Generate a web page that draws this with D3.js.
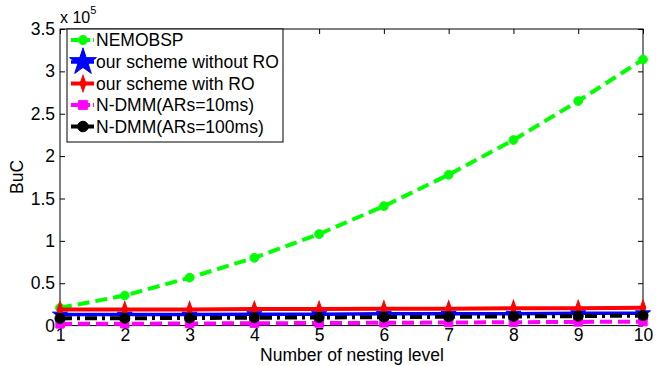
<!DOCTYPE html>
<html><head><meta charset="utf-8">
<script src="https://cdn.jsdelivr.net/npm/d3@7"></script>
<style>
html,body{margin:0;padding:0;background:#fff;}
text{font-family:"Liberation Sans",Arial,Helvetica,sans-serif;}
</style></head>
<body>
<svg id="chart" width="662" height="366"></svg>
<script>
// Data (values in units of x10^5)
const levels = [1,2,3,4,5,6,7,8,9,10];
const nemobsp   = [0.21,0.355,0.565,0.80,1.08,1.41,1.78,2.19,2.65,3.14];
const withoutRO = [0.13,0.13,0.13,0.135,0.135,0.14,0.14,0.14,0.145,0.145];
const withRO    = [0.19,0.19,0.19,0.195,0.195,0.2,0.2,0.205,0.205,0.21];
const ndmm10    = [0.02,0.022,0.025,0.028,0.03,0.033,0.036,0.04,0.043,0.047];
const ndmm100   = [0.085,0.087,0.09,0.093,0.096,0.1,0.104,0.108,0.112,0.118];
const seriesNames = ["NEMOBSP","our scheme without RO","our scheme with RO","N-DMM(ARs=10ms)","N-DMM(ARs=100ms)"];
const yTicks = [0,0.5,1,1.5,2,2.5,3,3.5];
const yTickLabels = ["0","0.5","1","1.5","2","2.5","3","3.5"];
const xTicks = [1,2,3,4,5,6,7,8,9,10];

const series = [
  {name:seriesNames[0], values:nemobsp,   color:"#00ff00", width:4, dash:"12,6", marker:"circle", msize:60},
  {name:seriesNames[1], values:withoutRO, color:"#0000ff", width:3.5, dash:null, marker:"star", msize:70},
  {name:seriesNames[2], values:withRO,    color:"#ff0000", width:4, dash:null, marker:"diamond", msize:45},
  {name:seriesNames[3], values:ndmm10,    color:"#ff00ff", width:4, dash:"12,6", marker:"square", msize:70},
  {name:seriesNames[4], values:ndmm100,   color:"#000000", width:4, dash:"12,5,3,5", marker:"circle", msize:80}
];

const L=60, R=643, T=29, B=325.6;
const svg = d3.select("#chart");
const x = d3.scaleLinear().domain([1,10]).range([L,R]);
const y = d3.scaleLinear().domain([0,3.5]).range([B,T]);

const fs = "17.5px";
const gx = svg.append("g").attr("transform",`translate(0,${B})`)
  .call(d3.axisBottom(x).tickValues(xTicks).tickSize(-5).tickPadding(3).tickFormat(d3.format("d")));
const gxt = svg.append("g").attr("transform",`translate(0,${T})`)
  .call(d3.axisTop(x).tickValues(xTicks).tickSize(-5).tickFormat(""));
const gy = svg.append("g").attr("transform",`translate(${L},0)`)
  .call(d3.axisLeft(y).tickValues(yTicks).tickSize(-5).tickPadding(5).tickFormat((d,i)=>yTickLabels[i]));
const gyr = svg.append("g").attr("transform",`translate(${R},0)`)
  .call(d3.axisRight(y).tickValues(yTicks).tickSize(-5).tickFormat(""));
[gx,gxt,gy,gyr].forEach(g=>{
  g.select(".domain").remove();
  g.selectAll(".tick line").attr("stroke","#000");
  g.selectAll("text").attr("font-size",fs).attr("fill","#000")
    .attr("font-family","'Liberation Sans',Arial,sans-serif");
});
svg.append("rect").attr("x",L).attr("y",T).attr("width",R-L).attr("height",B-T)
  .attr("fill","none").attr("stroke","#000").attr("stroke-width",1);

// exponent label
const ex = svg.append("text").attr("x",60).attr("y",23).attr("font-size","16px").attr("fill","#000");
ex.append("tspan").text("x 10");
ex.append("tspan").attr("font-size","11px").attr("dy",-9).text("5");

// axis titles
svg.append("text").attr("x",352).attr("y",361).attr("text-anchor","middle")
  .attr("font-size","17.5px").text("Number of nesting level");
svg.append("text").attr("transform","translate(23,177) rotate(-90)").attr("text-anchor","middle")
  .attr("font-size",fs).text("BuC");

function symbolFor(m){
  return m==="circle"?d3.symbolCircle:m==="star"?d3.symbolStar:m==="diamond"?d3.symbolDiamond:d3.symbolSquare;
}
function drawMarker(g, s, cx, cy, scale){
  const sym = d3.symbol().type(symbolFor(s.marker)).size(s.msize*(scale||1));
  return g.append("path").attr("d",sym()).attr("fill",s.color).attr("stroke",s.color).attr("stroke-width",1)
    .attr("transform",`translate(${cx},${cy})` + (s.marker==="diamond"?" scale(0.8,1.3)":""));
}

const line = d3.line().x((d,i)=>x(levels[i])).y(d=>y(d));
const plot = svg.append("g");
series.forEach(s=>{
  const g = plot.append("g");
  g.append("path").datum(s.values).attr("d",line).attr("fill","none")
    .attr("stroke",s.color).attr("stroke-width",s.width)
    .attr("stroke-dasharray",s.dash).attr("stroke-linejoin","round");
  s.values.forEach((v,i)=>drawMarker(g,s,x(levels[i]),y(v)));
});

// legend
const lg = svg.append("g");
lg.append("rect").attr("x",67).attr("y",29).attr("width",216).attr("height",113)
  .attr("fill","#fff").attr("stroke","#000").attr("stroke-width",1);
const rowY = [40,62,83.5,105,126.5];
series.forEach((s,i)=>{
  const yy = rowY[i];
  lg.append("line").attr("x1",71).attr("x2",94).attr("y1",yy).attr("y2",yy)
    .attr("stroke",s.color).attr("stroke-width",s.width)
    .attr("stroke-dasharray", s.dash? (s.dash==="12,6"?"7,3,9,3":"8,3,3,3") : null);
  drawMarker(lg,s,83,yy, s.marker==="star"?3.2:1.1);
  lg.append("text").attr("x",96).attr("y",yy).attr("dy","0.36em").attr("font-size",fs).text(s.name);
});
</script>
</body></html>
